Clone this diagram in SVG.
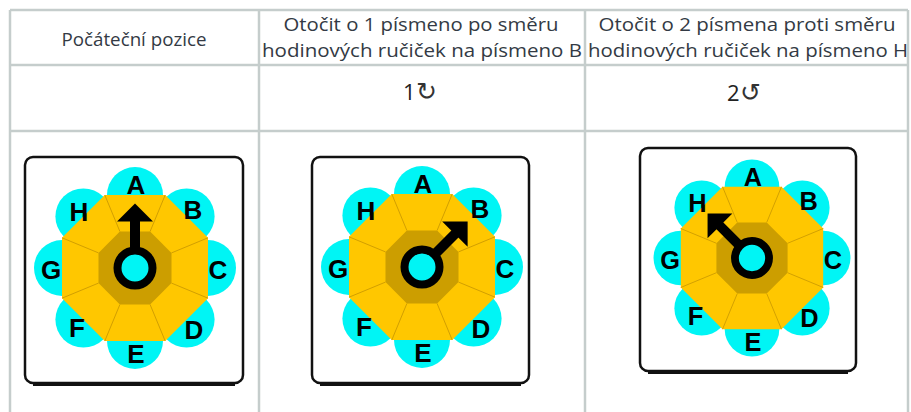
<svg xmlns="http://www.w3.org/2000/svg" xmlns:xlink="http://www.w3.org/1999/xlink" width="911" height="412" viewBox="0 0 911 412">
  <style>
    .grid { stroke: #c5cdcc; stroke-width: 2.5; fill: none; }
    .head { font-family: "Open Sans", "Noto Sans", "DejaVu Sans", sans-serif; font-size: 18px; fill: #333a44; text-anchor: middle; }
    .icon { font-family: "Open Sans", "DejaVu Sans", sans-serif; font-size: 22px; fill: #222; }
    .sym { font-family: "DejaVu Sans", sans-serif; font-size: 25px; font-weight: 300; fill: #333; }
    .box { fill: #fff; stroke: #111; stroke-width: 2.5; }
    .boxfoot { stroke: #111; stroke-width: 3; fill: none; }
    .tab { fill: #00f5f5; }
    .oct { fill: #ffc700; }
    .hub { fill: #cc9e00; }
    .seam { stroke: #d29f00; stroke-width: 1; }
    .ltr { font-family: "Liberation Sans", Arial, sans-serif; font-weight: bold; font-size: 26px; fill: #000; text-anchor: middle; }
    .ring { fill: #00f5f5; stroke: #000; stroke-width: 8; }
  </style>
  <defs>
    <!-- dial face without letters, centred on 0,0 -->
    <g id="face">
      <circle class="tab" cx="0" cy="-73" r="28"/>
      <circle class="tab" cx="51.6" cy="-51.6" r="28"/>
      <circle class="tab" cx="73" cy="0" r="28"/>
      <circle class="tab" cx="51.6" cy="51.6" r="28"/>
      <circle class="tab" cx="0" cy="73" r="28"/>
      <circle class="tab" cx="-51.6" cy="51.6" r="28"/>
      <circle class="tab" cx="-73" cy="0" r="28"/>
      <circle class="tab" cx="-51.6" cy="-51.6" r="28"/>
      <polygon class="oct" points="73,-30.2 73,30.2 30.2,73 -30.2,73 -73,30.2 -73,-30.2 -30.2,-73 30.2,-73"/>
      <polygon class="hub" points="36.5,-15.1 36.5,15.1 15.1,36.5 -15.1,36.5 -36.5,15.1 -36.5,-15.1 -15.1,-36.5 15.1,-36.5"/>
      <g class="seam">
        <line x1="73" y1="-30.2" x2="36.5" y2="-15.1"/>
        <line x1="73" y1="30.2" x2="36.5" y2="15.1"/>
        <line x1="30.2" y1="73" x2="15.1" y2="36.5"/>
        <line x1="-30.2" y1="73" x2="-15.1" y2="36.5"/>
        <line x1="-73" y1="30.2" x2="-36.5" y2="15.1"/>
        <line x1="-73" y1="-30.2" x2="-36.5" y2="-15.1"/>
        <line x1="-30.2" y1="-73" x2="-15.1" y2="-36.5"/>
        <line x1="30.2" y1="-73" x2="15.1" y2="-36.5"/>
      </g>
    </g>
    <!-- pointer pointing straight up -->
    <g id="pointer" fill="#000">
      <rect x="-5" y="-48" width="10" height="40"/>
      <polygon points="-18,-46.5 18,-46.5 0,-64.5"/>
    </g>
  </defs>

  <!-- table grid -->
  <g id="table" class="grid">
    <line x1="10" y1="10" x2="908" y2="10"/>
    <line x1="10" y1="65" x2="908" y2="65"/>
    <line x1="10" y1="131" x2="908" y2="131"/>
    <line x1="10" y1="10" x2="10" y2="412"/>
    <line x1="259" y1="10" x2="259" y2="412"/>
    <line x1="585" y1="10" x2="585" y2="412"/>
    <line x1="908" y1="10" x2="908" y2="412"/>
  </g>

  <!-- header row -->
  <g id="header">
    <text class="head" x="134" y="46" textLength="145" lengthAdjust="spacingAndGlyphs">Počáteční pozice</text>
    <text class="head" x="421" y="31" textLength="275" lengthAdjust="spacingAndGlyphs">Otočit o 1 písmeno po směru</text>
    <text class="head" x="422" y="57" textLength="320" lengthAdjust="spacingAndGlyphs">hodinových ručiček na písmeno B</text>
    <text class="head" x="747" y="31" textLength="297" lengthAdjust="spacingAndGlyphs">Otočit o 2 písmena proti směru</text>
    <text class="head" x="748" y="57" textLength="320" lengthAdjust="spacingAndGlyphs">hodinových ručiček na písmeno H</text>
  </g>

  <!-- rotation marks -->
  <g id="moves">
    <text class="icon" x="403" y="100">1<tspan class="sym">↻</tspan></text>
    <text class="icon" x="727" y="101">2<tspan class="sym">↺</tspan></text>
  </g>

  <!-- starting position: pointer on A -->
  <g id="dial-start">
    <rect class="box" x="25" y="157" width="218" height="226" rx="8"/>
    <path class="boxfoot" d="M33 384.5 H235"/>
    <g transform="translate(135,268)">
      <use xlink:href="#face"/>
      <text class="ltr" x="1" y="-74">A</text>
      <text class="ltr" x="58" y="-49">B</text>
      <text class="ltr" x="83" y="11">C</text>
      <text class="ltr" x="59" y="71">D</text>
      <text class="ltr" x="1" y="95">E</text>
      <text class="ltr" x="-58" y="69">F</text>
      <text class="ltr" x="-84" y="11">G</text>
      <text class="ltr" x="-56" y="-47">H</text>
      <use xlink:href="#pointer"/>
      <circle class="ring" cx="0" cy="0" r="17.5"/>
    </g>
  </g>

  <!-- one step clockwise: pointer on B -->
  <g id="dial-clockwise">
    <rect class="box" x="312" y="157" width="217" height="226" rx="8"/>
    <path class="boxfoot" d="M320 384.5 H521"/>
    <g transform="translate(422,267)">
      <use xlink:href="#face"/>
      <text class="ltr" x="1" y="-74">A</text>
      <text class="ltr" x="58" y="-49">B</text>
      <text class="ltr" x="83" y="11">C</text>
      <text class="ltr" x="59" y="71">D</text>
      <text class="ltr" x="1" y="95">E</text>
      <text class="ltr" x="-58" y="69">F</text>
      <text class="ltr" x="-84" y="11">G</text>
      <text class="ltr" x="-56" y="-47">H</text>
      <use xlink:href="#pointer" transform="rotate(45)"/>
      <circle class="ring" cx="0" cy="0" r="17.5"/>
    </g>
  </g>

  <!-- two steps anticlockwise: pointer on H -->
  <g id="dial-anticlockwise">
    <rect class="box" x="640" y="148" width="216" height="223" rx="8"/>
    <path class="boxfoot" d="M648 372.5 H848"/>
    <g transform="translate(752,258) scale(0.975)">
      <use xlink:href="#face"/>
      <text class="ltr" x="1" y="-74">A</text>
      <text class="ltr" x="58" y="-49">B</text>
      <text class="ltr" x="83" y="11">C</text>
      <text class="ltr" x="59" y="71">D</text>
      <text class="ltr" x="1" y="95">E</text>
      <text class="ltr" x="-58" y="69">F</text>
      <text class="ltr" x="-84" y="11">G</text>
      <text class="ltr" x="-56" y="-47">H</text>
      <use xlink:href="#pointer" transform="rotate(-45)"/>
      <circle class="ring" cx="0" cy="0" r="17.5"/>
    </g>
  </g>
</svg>
